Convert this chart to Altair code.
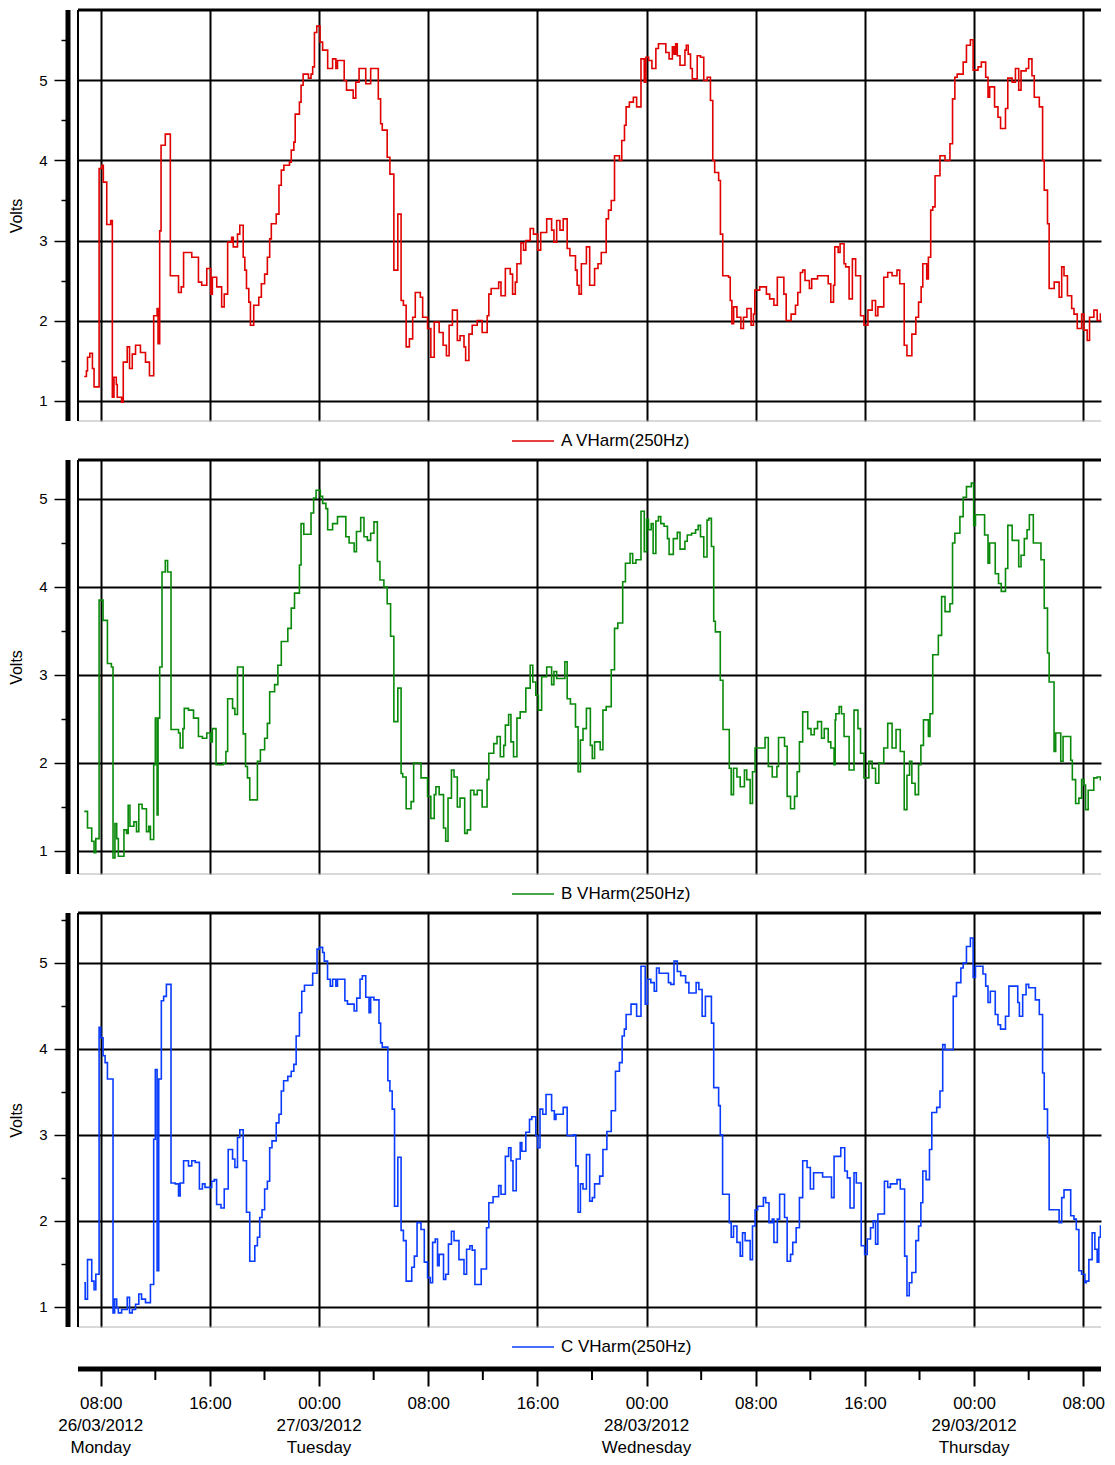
import altair as alt
import pandas as pd

FONT = "Liberation Sans"
START = pd.Timestamp("2012-03-26 00:00")
DATA_END_H = 81.75  # hours after 26/03/2012 00:00 where the record stops

SERIES_NAMES = ["A VHarm(250Hz)", "B VHarm(250Hz)", "C VHarm(250Hz)"]
SERIES_COLORS = ["#E00000", "#0A8A0A", "#0A3CFF"]

# (hours after 26/03/2012 00:00, volts) - each value holds until the next one
a_steps = [
    (6.79, 1.30), (6.95, 1.37), (7.03, 1.54), (7.20, 1.59), (7.39, 1.40), (7.51, 1.17), (7.88, 3.90), (8.07, 3.94),
    (8.19, 3.73), (8.44, 3.20), (8.73, 3.25), (8.85, 1.04), (8.97, 1.29), (9.14, 1.20), (9.21, 1.04), (9.53, 0.98),
    (9.65, 1.48), (9.94, 1.67), (10.11, 1.40), (10.31, 1.58), (10.55, 1.69), (10.91, 1.60), (11.28, 1.48), (11.57, 1.31),
    (11.88, 2.06), (12.13, 2.15), (12.20, 1.71), (12.32, 3.12), (12.42, 4.19), (12.73, 4.33), (13.10, 2.56), (13.70, 2.35),
    (13.90, 2.42), (14.07, 2.85), (14.67, 2.79), (15.16, 2.48), (15.40, 2.44), (15.77, 2.65), (16.06, 2.33), (16.18, 2.54),
    (16.50, 2.42), (16.86, 2.17), (17.05, 2.33), (17.30, 2.98), (17.59, 3.04), (17.71, 2.92), (18.02, 3.08), (18.19, 3.19),
    (18.44, 2.79), (18.56, 2.63), (18.68, 2.40), (18.85, 2.23), (18.97, 1.94), (19.21, 2.19), (19.58, 2.29), (19.77, 2.46),
    (20.01, 2.58), (20.21, 2.79), (20.38, 3.02), (20.50, 3.21), (20.86, 3.33), (21.06, 3.69), (21.23, 3.88), (21.42, 3.94),
    (21.83, 3.98), (21.96, 4.13), (22.15, 4.23), (22.25, 4.58), (22.56, 4.73), (22.68, 4.94), (22.83, 5.08), (23.22, 5.03),
    (23.41, 5.08), (23.53, 5.17), (23.66, 5.60), (23.83, 5.68), (24.07, 5.48), (24.26, 5.38), (24.63, 5.15), (24.99, 5.27),
    (25.23, 5.15), (25.35, 5.25), (25.84, 5.00), (26.01, 4.88), (26.50, 4.78), (26.69, 4.98), (26.93, 5.15), (27.42, 4.96),
    (27.78, 5.15), (28.34, 4.77), (28.51, 4.46), (28.63, 4.38), (28.99, 4.04), (29.19, 3.83), (29.48, 2.63), (29.77, 3.33),
    (30.01, 2.25), (30.18, 2.19), (30.38, 1.67), (30.62, 1.77), (30.86, 2.04), (31.05, 2.35), (31.42, 2.29), (31.59, 2.04),
    (31.95, 1.90), (32.19, 1.54), (32.44, 1.98), (32.80, 1.85), (33.09, 1.69), (33.33, 1.56), (33.53, 1.94), (33.77, 2.13),
    (34.13, 1.75), (34.33, 1.81), (34.62, 1.67), (34.74, 1.50), (34.98, 1.83), (35.22, 1.94), (35.59, 2.00), (35.95, 1.85),
    (36.32, 2.06), (36.44, 2.33), (36.61, 2.40), (37.16, 2.48), (37.33, 2.31), (37.65, 2.65), (38.01, 2.58), (38.18, 2.33),
    (38.38, 2.48), (38.50, 2.71), (38.79, 2.97), (38.98, 2.88), (39.15, 3.00), (39.47, 3.15), (39.71, 3.08), (40.02, 2.88),
    (40.24, 3.10), (40.68, 3.27), (41.04, 3.13), (41.21, 2.98), (41.41, 3.25), (41.65, 3.13), (41.89, 3.27), (42.18, 2.90),
    (42.38, 2.81), (42.79, 2.63), (42.91, 2.44), (43.05, 2.33), (43.22, 2.71), (43.59, 2.92), (43.83, 2.44), (44.19, 2.65),
    (44.44, 2.71), (44.68, 2.85), (45.04, 3.27), (45.21, 3.38), (45.41, 3.50), (45.65, 4.06), (46.01, 4.00), (46.18, 4.25),
    (46.38, 4.44), (46.50, 4.67), (46.74, 4.73), (47.03, 4.79), (47.27, 4.67), (47.59, 5.27), (47.83, 4.98), (47.95, 5.29),
    (48.15, 5.25), (48.39, 5.15), (48.68, 5.40), (48.87, 5.46), (49.41, 5.35), (49.65, 5.27), (49.89, 5.42), (50.01, 5.33),
    (50.13, 5.46), (50.25, 5.31), (50.45, 5.19), (50.81, 5.38), (50.91, 5.44), (51.05, 5.33), (51.22, 5.15), (51.35, 5.02),
    (51.71, 5.31), (51.95, 5.29), (52.19, 5.00), (52.44, 5.04), (52.68, 4.75), (52.85, 4.00), (52.99, 3.85), (53.28, 3.75),
    (53.41, 3.08), (53.58, 2.56), (54.01, 2.54), (54.13, 2.25), (54.25, 1.96), (54.38, 2.17), (54.62, 2.04), (54.91, 1.90),
    (55.10, 2.04), (55.35, 2.15), (55.66, 1.94), (55.83, 2.08), (55.93, 2.38), (56.29, 2.42), (56.78, 2.33), (57.02, 2.27),
    (57.33, 2.19), (57.58, 2.54), (58.06, 2.33), (58.23, 2.00), (58.59, 2.08), (58.91, 2.19), (59.08, 2.35), (59.27, 2.60),
    (59.44, 2.63), (59.61, 2.50), (59.93, 2.40), (60.10, 2.52), (60.53, 2.56), (61.31, 2.46), (61.50, 2.23), (61.70, 2.44),
    (61.79, 2.92), (62.04, 2.85), (62.18, 2.96), (62.47, 2.71), (62.59, 2.67), (62.84, 2.27), (63.08, 2.77), (63.32, 2.56),
    (63.68, 2.06), (63.93, 1.94), (64.22, 2.13), (64.53, 2.25), (64.78, 2.06), (64.95, 2.17), (65.38, 2.54), (65.67, 2.60),
    (65.99, 2.56), (66.35, 2.63), (66.55, 2.46), (66.88, 1.69), (67.08, 1.56), (67.44, 1.83), (67.73, 2.04), (67.93, 2.23),
    (68.12, 2.42), (68.24, 2.71), (68.53, 2.52), (68.65, 2.79), (68.82, 3.38), (68.97, 3.42), (69.14, 3.81), (69.50, 4.06),
    (69.87, 4.00), (70.23, 4.21), (70.42, 4.77), (70.59, 5.04), (70.76, 5.08), (71.20, 5.23), (71.44, 5.44), (71.73, 5.51),
    (71.93, 5.13), (72.29, 5.17), (72.53, 5.23), (72.85, 5.04), (73.02, 4.79), (73.14, 4.92), (73.50, 4.67), (73.75, 4.54),
    (73.94, 4.40), (74.30, 4.65), (74.47, 5.03), (74.79, 4.98), (75.03, 5.15), (75.27, 4.88), (75.44, 5.12), (75.81, 5.15),
    (76.00, 5.27), (76.24, 5.06), (76.41, 4.79), (76.78, 4.67), (77.02, 4.00), (77.14, 3.63), (77.38, 3.21), (77.50, 2.40),
    (77.87, 2.48), (78.23, 2.29), (78.42, 2.67), (78.59, 2.56), (78.84, 2.31), (79.15, 2.15), (79.32, 2.08), (79.56, 1.90),
    (79.88, 2.08), (80.05, 1.88), (80.29, 1.75), (80.46, 2.04), (80.78, 2.13), (81.02, 2.00), (81.26, 2.08), (81.50, 2.06),
]

b_steps = [
    (6.79, 1.45), (7.03, 1.26), (7.34, 1.11), (7.51, 0.98), (7.64, 1.14), (7.88, 3.85), (8.17, 3.62), (8.49, 3.13),
    (8.78, 3.09), (8.90, 0.92), (9.04, 1.31), (9.17, 1.14), (9.29, 0.94), (9.70, 1.24), (9.89, 1.20), (10.01, 1.52),
    (10.14, 1.28), (10.43, 1.33), (10.62, 1.22), (10.79, 1.53), (11.03, 1.48), (11.35, 1.22), (11.52, 1.28), (11.64, 1.13),
    (11.88, 1.98), (12.00, 2.51), (12.13, 1.41), (12.20, 2.51), (12.32, 3.09), (12.49, 4.17), (12.73, 4.30), (12.90, 4.17),
    (13.15, 2.38), (13.70, 2.34), (13.82, 2.17), (14.02, 2.39), (14.12, 2.62), (14.43, 2.60), (14.80, 2.51), (15.16, 2.30),
    (15.45, 2.28), (15.77, 2.34), (16.06, 2.24), (16.18, 2.39), (16.45, 1.98), (16.98, 2.00), (17.17, 2.13), (17.30, 2.73),
    (17.66, 2.62), (17.83, 2.55), (18.02, 3.09), (18.44, 2.33), (18.61, 1.96), (18.75, 1.83), (18.92, 1.58), (19.48, 2.02),
    (19.70, 2.15), (20.01, 2.28), (20.21, 2.45), (20.38, 2.81), (20.74, 2.89), (20.98, 3.11), (21.23, 3.38), (21.71, 3.53),
    (21.96, 3.76), (22.20, 3.93), (22.56, 4.25), (22.68, 4.72), (22.88, 4.60), (23.41, 4.84), (23.60, 5.01), (23.78, 5.10),
    (24.09, 5.03), (24.26, 4.95), (24.50, 4.89), (24.63, 4.65), (24.99, 4.72), (25.35, 4.80), (25.96, 4.57), (26.20, 4.50),
    (26.57, 4.40), (26.74, 4.63), (27.05, 4.79), (27.29, 4.57), (27.54, 4.53), (27.78, 4.61), (28.02, 4.74), (28.27, 4.29),
    (28.46, 4.08), (28.75, 4.00), (28.99, 3.81), (29.24, 3.44), (29.48, 2.47), (29.77, 2.85), (30.01, 1.88), (30.13, 1.84),
    (30.38, 1.48), (30.74, 1.56), (30.93, 2.00), (31.47, 1.83), (31.95, 1.62), (32.19, 1.37), (32.44, 1.64), (32.56, 1.73),
    (32.80, 1.64), (33.12, 1.26), (33.28, 1.11), (33.45, 1.60), (33.70, 1.92), (33.89, 1.84), (34.13, 1.50), (34.33, 1.60),
    (34.67, 1.20), (34.86, 1.24), (35.10, 1.69), (35.35, 1.64), (35.59, 1.69), (35.95, 1.50), (36.31, 1.81), (36.44, 2.11),
    (36.80, 2.22), (37.04, 2.30), (37.28, 2.07), (37.53, 2.20), (37.65, 2.43), (37.89, 2.55), (38.06, 2.24), (38.25, 2.07),
    (38.50, 2.51), (38.74, 2.58), (39.15, 2.85), (39.47, 3.11), (39.66, 2.92), (39.88, 2.77), (40.07, 2.60), (40.31, 2.98),
    (40.68, 3.09), (41.04, 2.89), (41.21, 3.04), (41.41, 2.96), (42.01, 3.15), (42.18, 2.73), (42.42, 2.67), (42.79, 2.41),
    (42.98, 1.90), (43.15, 2.26), (43.34, 2.39), (43.59, 2.62), (43.88, 2.20), (44.02, 2.05), (44.19, 2.24), (44.60, 2.15),
    (44.80, 2.60), (45.04, 2.64), (45.41, 3.06), (45.65, 3.53), (45.89, 3.59), (46.25, 4.06), (46.45, 4.27), (46.79, 4.38),
    (46.98, 4.27), (47.22, 4.31), (47.59, 4.86), (47.83, 4.40), (48.00, 4.77), (48.14, 4.65), (48.34, 4.72), (48.48, 4.38),
    (48.68, 4.75), (48.87, 4.80), (49.04, 4.72), (49.28, 4.69), (49.53, 4.55), (49.65, 4.37), (49.96, 4.55), (50.25, 4.62),
    (50.45, 4.43), (50.81, 4.52), (50.98, 4.59), (51.30, 4.61), (51.59, 4.65), (51.78, 4.70), (51.95, 4.57), (52.19, 4.34),
    (52.43, 4.76), (52.56, 4.78), (52.75, 4.46), (52.92, 3.61), (53.04, 3.49), (53.40, 2.94), (53.60, 2.38), (54.06, 1.94),
    (54.20, 1.64), (54.37, 1.94), (54.62, 1.84), (54.86, 1.73), (55.17, 1.92), (55.34, 1.81), (55.59, 1.54), (55.76, 1.90),
    (55.95, 2.17), (56.68, 2.29), (56.92, 1.96), (57.21, 1.84), (57.55, 1.96), (57.67, 2.29), (58.11, 2.19), (58.30, 1.62),
    (58.55, 1.48), (58.84, 1.62), (59.03, 1.90), (59.20, 2.24), (59.44, 2.58), (59.81, 2.39), (60.05, 2.32), (60.29, 2.39),
    (60.53, 2.47), (60.82, 2.28), (61.02, 2.39), (61.31, 2.24), (61.50, 2.17), (61.74, 1.98), (61.82, 2.49), (61.87, 2.56),
    (62.11, 2.64), (62.28, 2.56), (62.47, 2.30), (62.84, 1.92), (63.20, 2.60), (63.49, 2.39), (63.68, 2.11), (63.93, 1.83),
    (64.29, 2.02), (64.53, 1.94), (64.78, 1.77), (65.02, 2.00), (65.38, 2.17), (65.67, 2.45), (65.99, 2.17), (66.28, 2.38),
    (66.59, 2.13), (66.88, 1.47), (67.08, 1.86), (67.27, 2.02), (67.44, 1.77), (67.68, 1.64), (67.93, 1.98), (68.10, 2.20),
    (68.29, 2.49), (68.65, 2.30), (68.77, 2.56), (68.97, 3.23), (69.38, 3.45), (69.62, 3.89), (69.87, 3.72), (70.23, 3.81),
    (70.42, 4.50), (70.59, 4.61), (70.96, 4.80), (71.20, 5.02), (71.44, 5.14), (71.80, 5.18), (71.97, 4.70), (72.10, 4.82),
    (72.77, 4.59), (73.02, 4.27), (73.14, 4.50), (73.55, 4.15), (73.79, 4.04), (73.99, 3.95), (74.30, 4.21), (74.47, 4.70),
    (74.79, 4.53), (75.27, 4.23), (75.44, 4.36), (75.68, 4.55), (75.88, 4.65), (76.05, 4.82), (76.34, 4.50), (76.90, 4.31),
    (77.14, 3.76), (77.38, 3.25), (77.50, 2.92), (77.86, 2.13), (77.98, 2.34), (78.35, 2.02), (78.52, 2.30), (79.08, 2.03),
    (79.20, 1.81), (79.44, 1.54), (79.68, 1.60), (79.88, 1.81), (80.05, 1.75), (80.17, 1.47), (80.36, 1.69), (80.77, 1.83),
    (81.02, 1.84), (81.26, 1.81), (81.50, 1.86),
]

c_steps = [
    (6.79, 1.28), (6.86, 1.09), (7.03, 1.55), (7.34, 1.30), (7.51, 1.20), (7.64, 1.38), (7.88, 4.25), (8.00, 4.13),
    (8.17, 3.92), (8.32, 3.84), (8.49, 3.65), (8.90, 0.93), (9.02, 1.09), (9.17, 0.99), (9.29, 0.93), (9.53, 0.97),
    (9.94, 1.11), (10.11, 0.93), (10.31, 0.97), (10.55, 1.03), (10.79, 1.15), (10.99, 1.09), (11.28, 1.05), (11.64, 1.26),
    (11.88, 2.95), (12.00, 3.76), (12.13, 1.42), (12.25, 3.65), (12.44, 4.56), (12.61, 4.61), (12.81, 4.75), (13.15, 2.44),
    (13.46, 2.43), (13.70, 2.29), (13.82, 2.44), (14.07, 2.70), (14.43, 2.64), (14.67, 2.70), (14.92, 2.68), (15.23, 2.37),
    (15.45, 2.43), (15.64, 2.39), (16.13, 2.46), (16.32, 2.48), (16.49, 2.19), (16.81, 2.15), (17.05, 2.37), (17.34, 2.83),
    (17.66, 2.72), (17.83, 2.62), (18.02, 2.97), (18.19, 3.06), (18.44, 2.70), (18.68, 2.10), (18.92, 1.53), (19.29, 1.71),
    (19.48, 1.81), (19.65, 2.04), (19.82, 2.13), (20.01, 2.37), (20.21, 2.46), (20.38, 2.85), (20.55, 2.93), (20.86, 3.14),
    (21.06, 3.24), (21.23, 3.51), (21.40, 3.63), (21.71, 3.68), (21.96, 3.74), (22.15, 3.82), (22.32, 4.15), (22.56, 4.42),
    (22.73, 4.67), (22.93, 4.74), (23.53, 4.88), (23.85, 5.16), (24.02, 5.18), (24.26, 5.12), (24.38, 5.02), (24.62, 4.81),
    (24.82, 4.73), (24.99, 4.81), (25.23, 4.73), (25.35, 4.81), (25.89, 4.56), (26.08, 4.52), (26.57, 4.44), (26.76, 4.59),
    (27.00, 4.81), (27.17, 4.85), (27.42, 4.60), (27.66, 4.42), (27.78, 4.60), (28.02, 4.57), (28.39, 4.30), (28.51, 4.07),
    (28.63, 4.02), (29.04, 3.63), (29.19, 3.51), (29.36, 3.30), (29.53, 2.17), (29.77, 2.74), (30.01, 1.89), (30.18, 1.77),
    (30.38, 1.30), (30.79, 1.46), (30.98, 1.59), (31.18, 1.98), (31.47, 1.90), (31.71, 1.52), (31.95, 1.34), (32.15, 1.28),
    (32.32, 1.75), (32.51, 1.79), (32.68, 1.48), (32.80, 1.61), (33.12, 1.32), (33.28, 1.38), (33.48, 1.73), (33.70, 1.88),
    (33.89, 1.77), (34.25, 1.55), (34.62, 1.38), (34.81, 1.67), (35.05, 1.71), (35.22, 1.66), (35.42, 1.26), (35.88, 1.44),
    (36.27, 1.92), (36.44, 2.21), (36.75, 2.28), (37.16, 2.41), (37.33, 2.31), (37.65, 2.75), (37.89, 2.85), (38.06, 2.70),
    (38.21, 2.35), (38.45, 2.72), (38.74, 2.91), (38.86, 2.81), (39.15, 3.03), (39.42, 3.18), (39.59, 3.21), (39.88, 2.99),
    (40.02, 2.85), (40.19, 3.30), (40.39, 3.24), (40.63, 3.47), (41.04, 3.28), (41.24, 3.18), (41.36, 3.24), (41.89, 3.32),
    (42.18, 2.99), (42.62, 3.00), (42.81, 2.64), (42.98, 2.10), (43.15, 2.43), (43.34, 2.37), (43.59, 2.77), (43.83, 2.23),
    (44.02, 2.27), (44.19, 2.43), (44.56, 2.52), (44.80, 2.83), (45.09, 3.04), (45.41, 3.28), (45.72, 3.74), (46.01, 3.84),
    (46.21, 4.15), (46.37, 4.23), (46.50, 4.40), (46.86, 4.52), (47.27, 4.38), (47.59, 4.96), (47.90, 4.52), (48.07, 4.81),
    (48.31, 4.77), (48.56, 4.67), (48.73, 4.94), (48.92, 4.88), (49.60, 4.77), (49.77, 4.75), (50.01, 5.02), (50.25, 4.90),
    (50.50, 4.85), (50.86, 4.77), (51.10, 4.65), (51.63, 4.77), (51.83, 4.69), (52.07, 4.38), (52.31, 4.61), (52.75, 4.30),
    (52.92, 3.55), (53.28, 3.34), (53.40, 3.00), (53.57, 2.31), (54.06, 1.98), (54.20, 1.81), (54.37, 1.94), (54.62, 1.75),
    (54.86, 1.59), (55.03, 1.86), (55.22, 1.77), (55.59, 1.55), (55.76, 1.94), (55.95, 2.13), (56.14, 2.17), (56.56, 2.27),
    (56.73, 2.21), (56.97, 1.98), (57.21, 2.02), (57.33, 1.75), (57.58, 2.02), (57.75, 2.31), (58.11, 2.04), (58.30, 1.53),
    (58.55, 1.61), (58.71, 1.75), (58.96, 1.92), (59.20, 2.27), (59.44, 2.70), (59.76, 2.62), (60.00, 2.37), (60.24, 2.56),
    (60.90, 2.51), (61.55, 2.27), (61.74, 2.75), (62.23, 2.85), (62.52, 2.58), (62.71, 2.50), (62.91, 2.15), (63.20, 2.56),
    (63.37, 2.44), (63.73, 1.71), (63.98, 1.61), (64.17, 1.79), (64.41, 1.92), (64.61, 2.00), (64.78, 1.73), (64.95, 2.08),
    (65.43, 2.46), (65.67, 2.39), (65.87, 2.43), (66.35, 2.48), (66.59, 2.37), (66.91, 1.59), (67.08, 1.13), (67.25, 1.28),
    (67.44, 1.40), (67.73, 1.77), (67.93, 1.94), (68.10, 2.21), (68.24, 2.58), (68.48, 2.48), (68.73, 2.83), (68.90, 3.26),
    (69.26, 3.32), (69.50, 3.51), (69.70, 4.05), (69.87, 3.99), (70.47, 4.61), (70.71, 4.77), (71.03, 4.94), (71.20, 5.00),
    (71.44, 5.19), (71.73, 5.29), (71.93, 4.83), (72.10, 4.96), (72.65, 4.87), (72.85, 4.73), (73.02, 4.54), (73.19, 4.67),
    (73.55, 4.40), (73.75, 4.28), (73.94, 4.23), (74.30, 4.38), (74.55, 4.73), (75.20, 4.54), (75.32, 4.38), (75.56, 4.63),
    (75.81, 4.75), (76.00, 4.71), (76.49, 4.57), (76.78, 4.40), (77.02, 3.72), (77.14, 3.30), (77.38, 2.97), (77.50, 2.13),
    (78.23, 1.98), (78.42, 2.27), (78.59, 2.36), (79.08, 2.06), (79.32, 2.02), (79.49, 1.90), (79.68, 1.42), (79.88, 1.38),
    (80.12, 1.28), (80.22, 1.30), (80.41, 1.55), (80.65, 1.86), (80.85, 1.67), (81.02, 1.52), (81.14, 1.81), (81.26, 1.94),
    (81.50, 1.92),
]

# y tick values: labelled integers and unlabelled half-volt minor ticks
y_major = [1, 2, 3, 4, 5]
y_minor_a = [1.5, 2.5, 3.5, 4.5, 5.5]
y_minor_b = [1.5, 2.5, 3.5, 4.5]
y_minor_c = [1.5, 2.5, 3.5, 4.5, 5.5]

# time axis: labelled ticks every 8 h, small ticks in between (hours after 26/03 00:00)
x_major_h = [8, 16, 24, 32, 40, 48, 56, 64, 72, 80]
x_minor_h = [12, 20, 28, 36, 44, 52, 60, 68, 76]
# second/third label lines (date, weekday)
date_label_h = [8, 24, 48, 72]
date_label_text = ["26/03/2012\nMonday", "27/03/2012\nTuesday", "28/03/2012\nWednesday", "29/03/2012\nThursday"]

X_RANGE_H = [6 + 20 / 60, 81 + 18 / 60]  # visible window 26/03 06:20 - 29/03 09:18
W = 1023
AXIS_OFFSET = 42
LINE_H = 22


def ms(h):
    return int((START + pd.Timedelta(hours=h)).value // 10**6)


def to_frame(steps, name):
    hours = [h for h, _ in steps] + [DATA_END_H]
    volts = [v for _, v in steps] + [steps[-1][1]]
    return pd.DataFrame({"time": [ms(h) for h in hours], "volts": volts, "series": name})


XSCALE = alt.Scale(type="utc", domain=[ms(X_RANGE_H[0]), ms(X_RANGE_H[1])])


def y_major_axis():
    return alt.Axis(
        values=y_major, title="Volts", orient="left", offset=10,
        domain=False,
        ticks=True, tickColor="black", tickWidth=1.5, tickSize=14,
        format="d", labelFont=FONT, labelFontSize=15, labelColor="black", labelPadding=7,
        grid=True, gridColor="black", gridWidth=2,
        titleFont=FONT, titleFontSize=16, titleFontWeight="normal", titleColor="black",
        titlePadding=14,
    )


def y_minor_axis(vals):
    return alt.Axis(
        values=vals, title=None, orient="left", offset=10,
        domain=False, labels=False, grid=False,
        ticks=True, tickColor="black", tickWidth=1.5, tickSize=7,
    )


def bar(x, x2, y, y2, color="black"):
    one = alt.Data(values=[{"k": 0}])
    return alt.Chart(one).mark_rect(color=color).encode(
        x=alt.value(x), x2=alt.value(x2), y=alt.value(y), y2=alt.value(y2))


def panel(steps, name, color, H, ydom, yminor, bottom=False):
    df = to_frame(steps, name)
    yscale = alt.Scale(domain=ydom, nice=False, zero=False)
    if bottom:
        xaxis = alt.Axis(
            values=[ms(h) for h in x_major_h], title=None, orient="bottom", offset=AXIS_OFFSET,
            domain=False,
            ticks=True, tickColor="black", tickWidth=2, tickSize=17,
            format="%H:%M", labelFont=FONT, labelFontSize=17, labelColor="black",
            labelPadding=9.5, labelFlush=False, labelOverlap=False,
            grid=True, gridColor="black", gridWidth=2,
        )
    else:
        xaxis = alt.Axis(
            values=[ms(h) for h in x_major_h], title=None, orient="bottom",
            grid=True, gridColor="black", gridWidth=2,
            labels=False, ticks=False, domain=False,
        )
    line = alt.Chart(df).mark_line(
        interpolate="step-after", strokeWidth=1.6, clip=True, color=color
    ).encode(
        x=alt.X("time:T", scale=XSCALE, axis=xaxis),
        y=alt.Y("volts:Q", scale=yscale, axis=y_major_axis()),
    )
    minor = alt.Chart(df).mark_point(opacity=0).encode(
        y=alt.Y("volts:Q", scale=yscale, axis=y_minor_axis(yminor)),
    )
    one = alt.Data(values=[{"k": 0}])
    bot = alt.Chart(one).mark_rule(color="#b4b4b4", strokeWidth=1.2).encode(
        x=alt.value(0), x2=alt.value(W), y=alt.value(H))
    key_line = alt.Chart(one).mark_rule(color=color, strokeWidth=1.6).encode(
        x=alt.value(434), x2=alt.value(476), y=alt.value(H + 20))
    key_text = alt.Chart(pd.DataFrame({"series": [name]})).mark_text(
        align="left", baseline="middle", font=FONT, fontSize=17, color="black"
    ).encode(x=alt.value(483), y=alt.value(H + 20), text="series:N")
    layers = [
        minor, line, bot,
        bar(0, W, -1.5, 1.5),          # frame top
        bar(-1, 1, 0, H),              # frame left
        bar(-12.5, -7.5, 0, H),        # thick y-axis line
        key_line, key_text,
    ]
    if bottom:
        minor_ticks = alt.Chart(pd.DataFrame({"time": [ms(h) for h in x_minor_h]})).mark_rule(
            color="black", strokeWidth=2
        ).encode(
            x=alt.X("time:T", scale=XSCALE),
            y=alt.value(H + AXIS_OFFSET), y2=alt.value(H + AXIS_OFFSET + 11),
        )
        date_text = alt.Chart(
            pd.DataFrame({"time": [ms(h) for h in date_label_h], "label": date_label_text})
        ).mark_text(
            align="center", baseline="top", font=FONT, fontSize=17, color="black",
            lineBreak="\n", lineHeight=LINE_H,
        ).encode(
            x=alt.X("time:T", scale=XSCALE),
            y=alt.value(H + AXIS_OFFSET + 17 + 9.5 + LINE_H),
            text="label:N",
        )
        layers += [bar(0, W, H + AXIS_OFFSET - 2.5, H + AXIS_OFFSET + 2.5), minor_ticks, date_text]
    return (
        alt.layer(*layers)
        .resolve_axis(y="independent")
        .properties(width=W, height=H)
    )


p1 = panel(a_steps, SERIES_NAMES[0], SERIES_COLORS[0], 411, [0.744, 5.881], y_minor_a)
p2 = panel(b_steps, SERIES_NAMES[1], SERIES_COLORS[1], 414, [0.738, 5.443], y_minor_b)
p3 = panel(c_steps, SERIES_NAMES[2], SERIES_COLORS[2], 414, [0.766, 5.580], y_minor_c, bottom=True)

chart = (
    alt.vconcat(p1, p2, p3, spacing=9)
    .properties(padding=0)
    .configure_view(stroke=None)
)

chart.save("out.html", embed_options={"renderer": "svg", "actions": False})
